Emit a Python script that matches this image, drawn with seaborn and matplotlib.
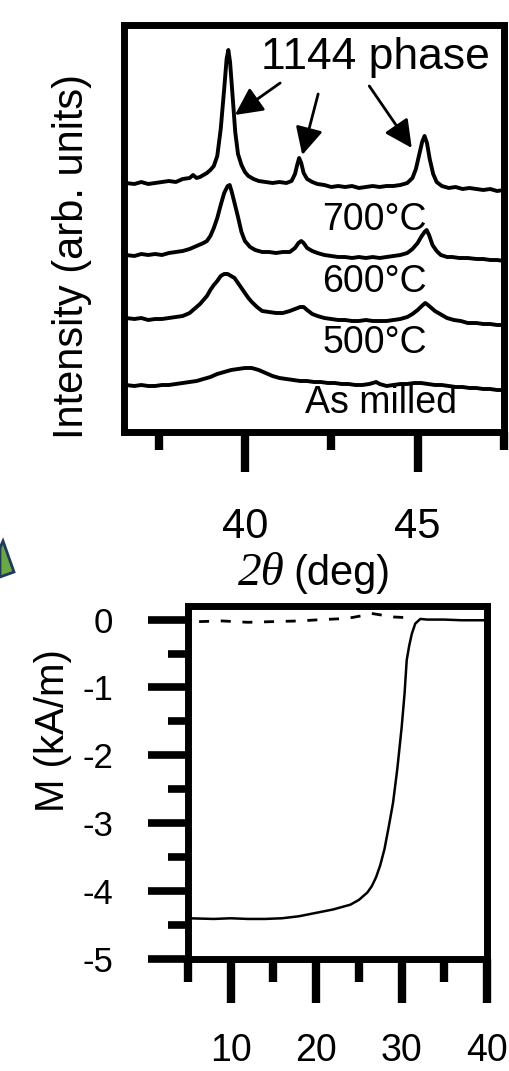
import numpy as np
import pandas as pd
import matplotlib
matplotlib.use("Agg")
import matplotlib.pyplot as plt
from matplotlib.patches import Polygon
from matplotlib.ticker import FixedLocator
import seaborn as sns

sns.set_theme(style="white")
plt.rcParams["font.family"] = ["Liberation Sans", "DejaVu Sans"]
for key in ["text.color", "axes.labelcolor", "xtick.color", "ytick.color", "axes.edgecolor"]:
    plt.rcParams[key] = "black"

# ---------------- XRD patterns (2theta in deg, intensity offset per sample) ----------------
theta_700 = [36.55, 36.8, 37.0, 37.2, 37.4, 37.6, 37.8, 38.0, 38.2, 38.4, 38.5, 38.6, 38.7,
             38.8, 38.9, 39.0, 39.1, 39.2, 39.3, 39.4, 39.47, 39.52, 39.57, 39.65, 39.72,
             39.8, 39.9, 40.0, 40.1, 40.25, 40.4, 40.6, 40.8, 41.0, 41.2, 41.35, 41.45,
             41.52, 41.57, 41.63, 41.7, 41.8, 41.95, 42.1, 42.3, 42.5, 42.7, 42.9, 43.1,
             43.3, 43.5, 43.7, 43.9, 44.1, 44.3, 44.5, 44.7, 44.85, 44.95, 45.05, 45.13,
             45.2, 45.27, 45.35, 45.45, 45.55, 45.7, 45.9, 46.1, 46.3, 46.5, 46.7, 46.9,
             47.1, 47.3, 47.5]
int_700 = [24.9, 24.8, 25.0, 24.8, 24.9, 25.0, 25.1, 25.0, 25.3, 25.4, 25.7, 25.4, 25.5,
           25.7, 25.9, 26.2, 26.6, 27.6, 30.3, 34.3, 37.3, 38.2, 37.0, 33.3, 30.0,
           27.8, 26.7, 26.0, 25.6, 25.3, 25.1, 25.0, 24.9, 25.0, 24.9, 25.1, 25.8,
           26.8, 27.4, 26.9, 25.9, 25.3, 25.0, 24.8, 24.7, 24.5, 24.6, 24.5, 24.6,
           24.4, 24.5, 24.6, 24.5, 24.6, 24.6, 24.7, 24.9, 25.4, 26.3, 27.8, 29.0,
           29.6, 28.9, 27.3, 25.8, 25.0, 24.6, 24.4, 24.5, 24.3, 24.4, 24.3, 24.2,
           24.3, 24.1, 24.2]

theta_600 = [36.55, 36.8, 37.0, 37.2, 37.4, 37.6, 37.8, 38.0, 38.2, 38.4, 38.6, 38.8, 38.9,
             39.0, 39.1, 39.2, 39.3, 39.4, 39.5, 39.56, 39.62, 39.7, 39.8, 39.9, 40.0,
             40.15, 40.3, 40.5, 40.7, 40.9, 41.1, 41.3, 41.45, 41.55, 41.63, 41.7, 41.8,
             41.95, 42.1, 42.3, 42.5, 42.7, 42.9, 43.1, 43.3, 43.5, 43.7, 43.9, 44.1,
             44.3, 44.5, 44.7, 44.85, 45.0, 45.1, 45.2, 45.26, 45.33, 45.43, 45.55, 45.67,
             45.85, 46.0, 46.2, 46.45, 46.7, 46.9, 47.1, 47.3, 47.5]
int_600 = [17.7, 17.6, 17.8, 17.7, 17.8, 17.7, 17.9, 18.0, 18.1, 18.3, 18.6, 18.9, 19.1,
           19.6, 20.4, 21.4, 22.7, 23.9, 24.6, 24.7, 24.0, 22.9, 21.5, 20.0, 19.1,
           18.5, 18.2, 18.0, 18.0, 17.9, 18.0, 18.0, 18.4, 18.9, 19.1, 18.9, 18.4,
           18.1, 17.9, 17.7, 17.6, 17.5, 17.5, 17.4, 17.5, 17.4, 17.5, 17.4, 17.5,
           17.6, 17.7, 17.9, 18.3, 18.9, 19.5, 20.0, 20.2, 19.7, 18.7, 18.1, 17.7,
           17.5, 17.5, 17.4, 17.4, 17.3, 17.3, 17.2, 17.2, 17.1]

theta_500 = [36.55, 36.8, 37.0, 37.2, 37.4, 37.6, 37.8, 38.0, 38.2, 38.4, 38.5, 38.6, 38.7,
             38.8, 38.9, 39.0, 39.1, 39.2, 39.3, 39.4, 39.5, 39.6, 39.7, 39.8, 39.9,
             40.0, 40.1, 40.2, 40.35, 40.5, 40.7, 40.9, 41.1, 41.3, 41.45, 41.6, 41.7,
             41.8, 41.95, 42.1, 42.3, 42.5, 42.7, 42.9, 43.1, 43.3, 43.5, 43.7, 43.9,
             44.1, 44.3, 44.5, 44.7, 44.85, 45.0, 45.12, 45.22, 45.3, 45.4, 45.5, 45.65,
             45.85, 46.05, 46.25, 46.45, 46.7, 46.9, 47.1, 47.3, 47.5]
int_500 = [11.4, 11.3, 11.4, 11.2, 11.3, 11.3, 11.4, 11.5, 11.6, 11.9, 12.2, 12.5, 12.8,
           13.2, 13.6, 14.2, 14.7, 15.1, 15.6, 15.8, 15.8, 15.6, 15.4, 14.9, 14.4,
           13.9, 13.4, 13.0, 12.5, 12.1, 12.0, 11.9, 11.9, 12.1, 12.3, 12.5, 12.5,
           12.2, 11.8, 11.6, 11.4, 11.3, 11.2, 11.2, 11.1, 11.1, 11.2, 11.1, 11.1,
           11.1, 11.2, 11.3, 11.5, 11.8, 12.2, 12.6, 12.9, 12.7, 12.4, 12.1, 11.8,
           11.4, 11.2, 11.1, 10.9, 10.9, 10.8, 10.8, 10.7, 10.7]

theta_milled = [36.55, 36.8, 37.0, 37.2, 37.4, 37.6, 37.8, 38.0, 38.2, 38.4, 38.6, 38.8,
                39.0, 39.2, 39.4, 39.6, 39.8, 40.0, 40.2, 40.4, 40.6, 40.8, 41.0, 41.2,
                41.4, 41.6, 41.8, 42.0, 42.2, 42.4, 42.6, 42.8, 43.0, 43.2, 43.4, 43.6,
                43.8, 43.9, 44.1, 44.3, 44.5, 44.7, 44.9, 45.1, 45.3, 45.5, 45.7, 45.9,
                46.1, 46.3, 46.5, 46.7, 46.9, 47.1, 47.3, 47.5]
int_milled = [4.7, 4.6, 4.7, 4.6, 4.6, 4.7, 4.7, 4.8, 4.9, 5.0, 5.1, 5.3,
              5.5, 5.8, 6.0, 6.2, 6.3, 6.4, 6.4, 6.2, 5.9, 5.6, 5.4, 5.3,
              5.2, 5.1, 5.1, 5.0, 5.0, 4.9, 4.9, 4.8, 4.8, 4.7, 4.7, 4.8,
              5.0, 4.8, 4.6, 4.7, 4.8, 4.8, 4.9, 4.9, 4.8, 4.7, 4.7, 4.6,
              4.5, 4.5, 4.4, 4.4, 4.3, 4.3, 4.2, 4.2]

sample_names = ["700°C", "600°C", "500°C", "As milled"]
label_pos_theta = [43.76, 43.76, 43.76, 43.94]
label_pos_int = [21.2, 15.0, 8.9, 2.9]

theta_ticks_major = [40, 45]
theta_ticks_minor = [37.5, 42.5, 47.5]

# Peak markers for the 1144 phase: (tail theta, tail int, head theta, head int)
arrow_tail_theta = [41.02, 42.12, 43.60]
arrow_tail_int = [34.9, 33.8, 34.6]
arrow_head_theta = [39.71, 41.66, 44.83]
arrow_head_int = [31.7, 27.7, 28.4]

# ---------------- Magnetization vs temperature ----------------
temp_zfc = [5, 8, 10, 12, 14, 16, 18, 20, 22, 24, 25, 26, 26.5, 27, 27.5, 28, 28.5, 29,
            29.5, 30, 30.35, 30.6, 30.9, 31.2, 31.6, 32.2, 33, 35, 37, 40]
m_zfc = [-4.40, -4.41, -4.40, -4.41, -4.41, -4.40, -4.37, -4.32, -4.27, -4.20, -4.13, -4.02,
         -3.93, -3.80, -3.62, -3.38, -3.05, -2.70, -2.20, -1.60, -1.09, -0.60, -0.38,
         -0.21, -0.06, 0.01, 0.0, 0.0, -0.01, -0.01]

temp_fc = [6.3, 9, 12, 15, 18, 20.7, 22.5, 24.2, 25.5, 26.5, 27.5, 28.8, 30.4]
m_fc = [-0.03, -0.02, -0.04, -0.03, -0.02, 0.0, 0.01, 0.03, 0.06, 0.09, 0.07, 0.04, 0.03]

m_ticks_major = [0, -1, -2, -3, -4, -5]
m_ticks_minor = [-0.5, -1.5, -2.5, -3.5, -4.5]
t_ticks_major = [10, 20, 30, 40]
t_ticks_minor = [5, 15, 25, 35]

W, H = 509, 1071
fig = plt.figure(figsize=(W / 100, H / 100), dpi=100)

spine_w = 5.0

# ---------- XRD panel ----------
ax1 = fig.add_axes([124 / W, 1 - 432 / H, (504 - 124) / W, (432 - 25) / H])
traces = [(theta_700, int_700), (theta_600, int_600), (theta_500, int_500),
          (theta_milled, int_milled)]
for (tt, ii) in traces:
    df = pd.DataFrame({"two_theta": tt, "intensity": ii})
    sns.lineplot(data=df, x="two_theta", y="intensity", ax=ax1, color="black",
                 lw=2.8, sort=False, estimator=None)

for name, xt, yt in zip(sample_names, label_pos_theta, label_pos_int):
    ax1.text(xt, yt, name, fontsize=27, ha="center", va="center", color="black")

ax1.text(43.78, 37.4, "1144 phase", fontsize=32, ha="center", va="center", color="black")
for xt, yt, xh, yh in zip(arrow_tail_theta, arrow_tail_int, arrow_head_theta, arrow_head_int):
    ax1.annotate("", xy=(xh, yh), xytext=(xt, yt),
                 arrowprops=dict(arrowstyle="-|>,head_length=0.6,head_width=0.3",
                                 lw=2.0, color="black", shrinkA=0, shrinkB=0,
                                 mutation_scale=28))

ax1.set_xlim(36.5, 47.5)
ax1.set_ylim(0, 40.7)
ax1.xaxis.set_major_locator(FixedLocator(theta_ticks_major))
ax1.xaxis.set_minor_locator(FixedLocator(theta_ticks_minor))
ax1.set_yticks([])
ax1.tick_params(axis="x", which="major", direction="out", length=29, width=6,
                labelsize=30, pad=25, bottom=True, color="black", labelcolor="black")
ax1.tick_params(axis="x", which="minor", direction="out", length=13, width=6,
                bottom=True, color="black")
for s in ax1.spines.values():
    s.set_linewidth(spine_w)
    s.set_color("black")
ax1.set_xlabel("")
# axis title: italic serif "2θ" followed by the unit in sans
ax1.text(0.424, -0.376, "2θ", transform=ax1.transAxes, fontsize=34,
         family="Liberation Serif", style="italic", ha="right", va="baseline",
         color="black")
ax1.text(0.447, -0.376, "(deg)", transform=ax1.transAxes, fontsize=30,
         ha="left", va="baseline", color="black")
ax1.set_ylabel("Intensity (arb. units)", fontsize=30, va="center", color="black")
ax1.yaxis.set_label_coords(-0.137, 0.432)

# ---------- Magnetization panel ----------
ax2 = fig.add_axes([188 / W, 1 - 959 / H, (487 - 188) / W, (959 - 606) / H])
df_zfc = pd.DataFrame({"T": temp_zfc, "M": m_zfc})
df_fc = pd.DataFrame({"T": temp_fc, "M": m_fc})
sns.lineplot(data=df_zfc, x="T", y="M", ax=ax2, color="black", lw=1.8,
             sort=False, estimator=None)
sns.lineplot(data=df_fc, x="T", y="M", ax=ax2, color="black", lw=2.0,
             sort=False, estimator=None, dashes=False, linestyle=(0, (3.6, 4.2)))

ax2.set_xlim(5, 40)
ax2.set_ylim(-5, 0.2)
ax2.xaxis.set_major_locator(FixedLocator(t_ticks_major))
ax2.xaxis.set_minor_locator(FixedLocator(t_ticks_minor))
ax2.yaxis.set_major_locator(FixedLocator(m_ticks_major))
ax2.yaxis.set_minor_locator(FixedLocator(m_ticks_minor))
ax2.set_yticklabels([str(v) for v in m_ticks_major])
ax2.tick_params(axis="x", which="major", direction="out", length=32, width=6,
                labelsize=27, pad=21, bottom=True, color="black", labelcolor="black")
ax2.tick_params(axis="x", which="minor", direction="out", length=16.5, width=6,
                bottom=True, color="black")
ax2.tick_params(axis="y", which="major", direction="out", length=29, width=5.5,
                labelsize=25, pad=25, left=True, color="black", labelcolor="black")
ax2.tick_params(axis="y", which="minor", direction="out", length=14.5, width=5.5,
                left=True, color="black")
for s in ax2.spines.values():
    s.set_linewidth(spine_w)
    s.set_color("black")
ax2.set_xlabel("")
ax2.set_ylabel("M (kA/m)", fontsize=29, va="center", color="black")
ax2.yaxis.set_label_coords(-0.4515, 0.646)

# Corner of the green pointer shape at the left margin
shape_px = [(0, 548), (3, 541), (14, 572), (0, 577)]
fig.patches.append(Polygon([(x / W, 1 - y / H) for x, y in shape_px], closed=True,
                           transform=fig.transFigure, facecolor="#6aa840",
                           edgecolor="#1f3a60", lw=2.0))

fig.savefig("out.png", dpi=100)
